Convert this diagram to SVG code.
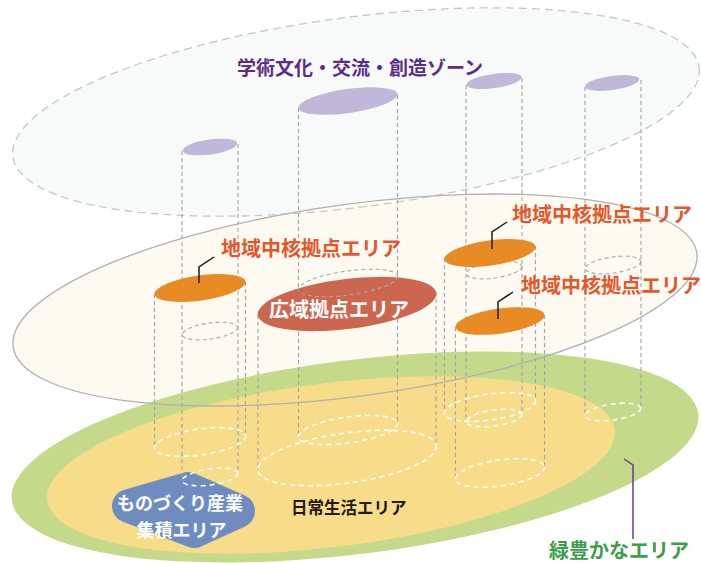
<svg xmlns="http://www.w3.org/2000/svg" width="701" height="563" viewBox="0 0 701 563">
<style>
.vl{fill:none;stroke:#a3a3a3;stroke-width:1.1;stroke-dasharray:4 3}
.ge{fill:none;stroke:#a8a8a8;stroke-width:1.1;stroke-dasharray:4 3}
.we{fill:none;stroke:#ffffff;stroke-width:1.6;stroke-dasharray:5 4}
.pu{fill:#c1b7d8}
.or{fill:#e88b24}
.t{font-family:'Noto Sans CJK JP','Noto Sans CJK SC',sans-serif;font-weight:bold}
.lbl{font-size:20px;fill:#e4572a}
.lead{fill:none;stroke:#231815;stroke-width:1.5}
</style>
<rect width="701" height="563" fill="#ffffff"/>
<g id="layers">
<ellipse id="zone-academic-fill" cx="356" cy="112" rx="346" ry="95" transform="rotate(-7.4 356 112)" fill="#f8fafa"/>
<ellipse id="zone-core-fill" cx="355" cy="300" rx="345" ry="96" transform="rotate(-7.8 355 300)" fill="#fdfaf2"/>
<ellipse id="zone-academic-outline" cx="356" cy="112" rx="346" ry="95" transform="rotate(-7.4 356 112)" fill="none" stroke="#c6c6c6" stroke-width="1.3" stroke-dasharray="8 5"/>
<ellipse id="zone-green" cx="355" cy="457" rx="346" ry="97" transform="rotate(-7.2 355 457)" fill="#c5d98b"/>
<ellipse id="zone-daily" cx="331" cy="465" rx="286" ry="82" transform="rotate(-7.1 331 465)" fill="#f7dc8a"/>
<ellipse id="zone-core-outline" cx="355" cy="300" rx="345" ry="96" transform="rotate(-7.8 355 300)" fill="none" stroke="#b0b0b0" stroke-width="1.3"/>
<path id="industry-blob" d="M188,489 L238,511 L194,531 L129,506 Z" fill="#6f8cc1" stroke="#6f8cc1" stroke-width="34" stroke-linejoin="round"/>
</g>
<g id="connectors">
<path class="vl" d="M182 151V480M238 144V473"/>
<path class="vl" d="M154.5 294V448M245.5 282V436"/>
<path class="vl" d="M298.5 108V437M397.5 95V424"/>
<path class="vl" d="M258 315V470M436 292V447"/>
<path class="vl" d="M466 85V421M522 78V414"/>
<path class="vl" d="M444.5 258V413M535.5 246V401"/>
<path class="vl" d="M455.5 327V479M544.5 315V467"/>
<path class="vl" d="M585 87V416M641 80V409"/>
<ellipse class="ge" cx="210" cy="331" rx="28" ry="8" transform="rotate(-8 210 331)"/>
<ellipse class="ge" cx="494" cy="270" rx="28" ry="8" transform="rotate(-8 494 270)"/>
<ellipse class="ge" cx="613" cy="265" rx="28" ry="8" transform="rotate(-8 613 265)"/>
<ellipse class="we" cx="210" cy="477" rx="28" ry="8" transform="rotate(-8 210 477)"/>
<ellipse class="we" cx="200" cy="442" rx="46" ry="13" transform="rotate(-8 200 442)"/>
<ellipse class="we" cx="348" cy="430" rx="50" ry="13" transform="rotate(-8 348 430)"/>
<ellipse class="we" cx="347" cy="458" rx="90" ry="25" transform="rotate(-8 347 458)"/>
<ellipse class="we" cx="494" cy="418" rx="28" ry="8" transform="rotate(-8 494 418)"/>
<ellipse class="we" cx="490" cy="407" rx="46" ry="13" transform="rotate(-8 490 407)"/>
<ellipse class="we" cx="500" cy="473" rx="45" ry="13" transform="rotate(-8 500 473)"/>
<ellipse class="we" cx="613" cy="412" rx="28" ry="8" transform="rotate(-8 613 412)"/>
</g>
<g id="academic-nodes">
<ellipse class="pu" cx="210" cy="147" rx="27.5" ry="7.5" transform="rotate(-8 210 147)"/>
<ellipse class="pu" cx="348" cy="101" rx="50" ry="12" transform="rotate(-8 348 101)"/>
<ellipse class="pu" cx="494" cy="81" rx="28" ry="7" transform="rotate(-8 494 81)"/>
<ellipse class="pu" cx="612" cy="83" rx="27.5" ry="7" transform="rotate(-8 612 83)"/>
</g>
<g id="node-regional-1">
<ellipse class="or" cx="200" cy="288" rx="46" ry="12.5" transform="rotate(-8 200 288)"/>
<path class="lead" d="M199 283V267L214 257"/>
<text class="t lbl" x="221" y="256">地域中核拠点エリア</text>
</g>
<g id="node-regional-2">
<ellipse class="or" cx="490" cy="253" rx="46" ry="12.5" transform="rotate(-8 490 253)"/>
<path class="lead" d="M492 249V232L507 222"/>
<text class="t lbl" x="512" y="222">地域中核拠点エリア</text>
</g>
<g id="node-regional-3">
<ellipse class="or" cx="500" cy="321" rx="45" ry="12.5" transform="rotate(-8 500 321)"/>
<path class="lead" d="M498 319V302L513 292"/>
<text class="t lbl" x="521" y="292.5">地域中核拠点エリア</text>
</g>
<g id="node-wide">
<ellipse cx="347" cy="304" rx="90" ry="25" transform="rotate(-7 347 304)" fill="#cd664f"/>
<ellipse class="ge" cx="348" cy="283" rx="50" ry="12" transform="rotate(-8 348 283)"/>
<text class="t" x="269" y="317" font-size="20" fill="#ffffff">広域拠点エリア</text>
</g>
<g id="node-industry">
<text class="t" x="180" y="510" font-size="18" fill="#ffffff" text-anchor="middle">ものづくり産業</text>
<text class="t" x="181.5" y="536.5" font-size="18" fill="#ffffff" text-anchor="middle">集積エリア</text>
</g>
<g id="node-daily">
<text class="t" x="291" y="514" font-size="16.5" fill="#231815">日常生活エリア</text>
</g>
<g id="node-green">
<path d="M624 459L633 465V539" fill="none" stroke="#6b3b8e" stroke-width="1.5"/>
<text class="t" x="549" y="558" font-size="20" fill="#3b9f47">緑豊かなエリア</text>
</g>
<g id="node-academic">
<text class="t" x="237" y="75" font-size="19" fill="#5c2d87">学術文化・交流・創造ゾーン</text>
</g>
</svg>
